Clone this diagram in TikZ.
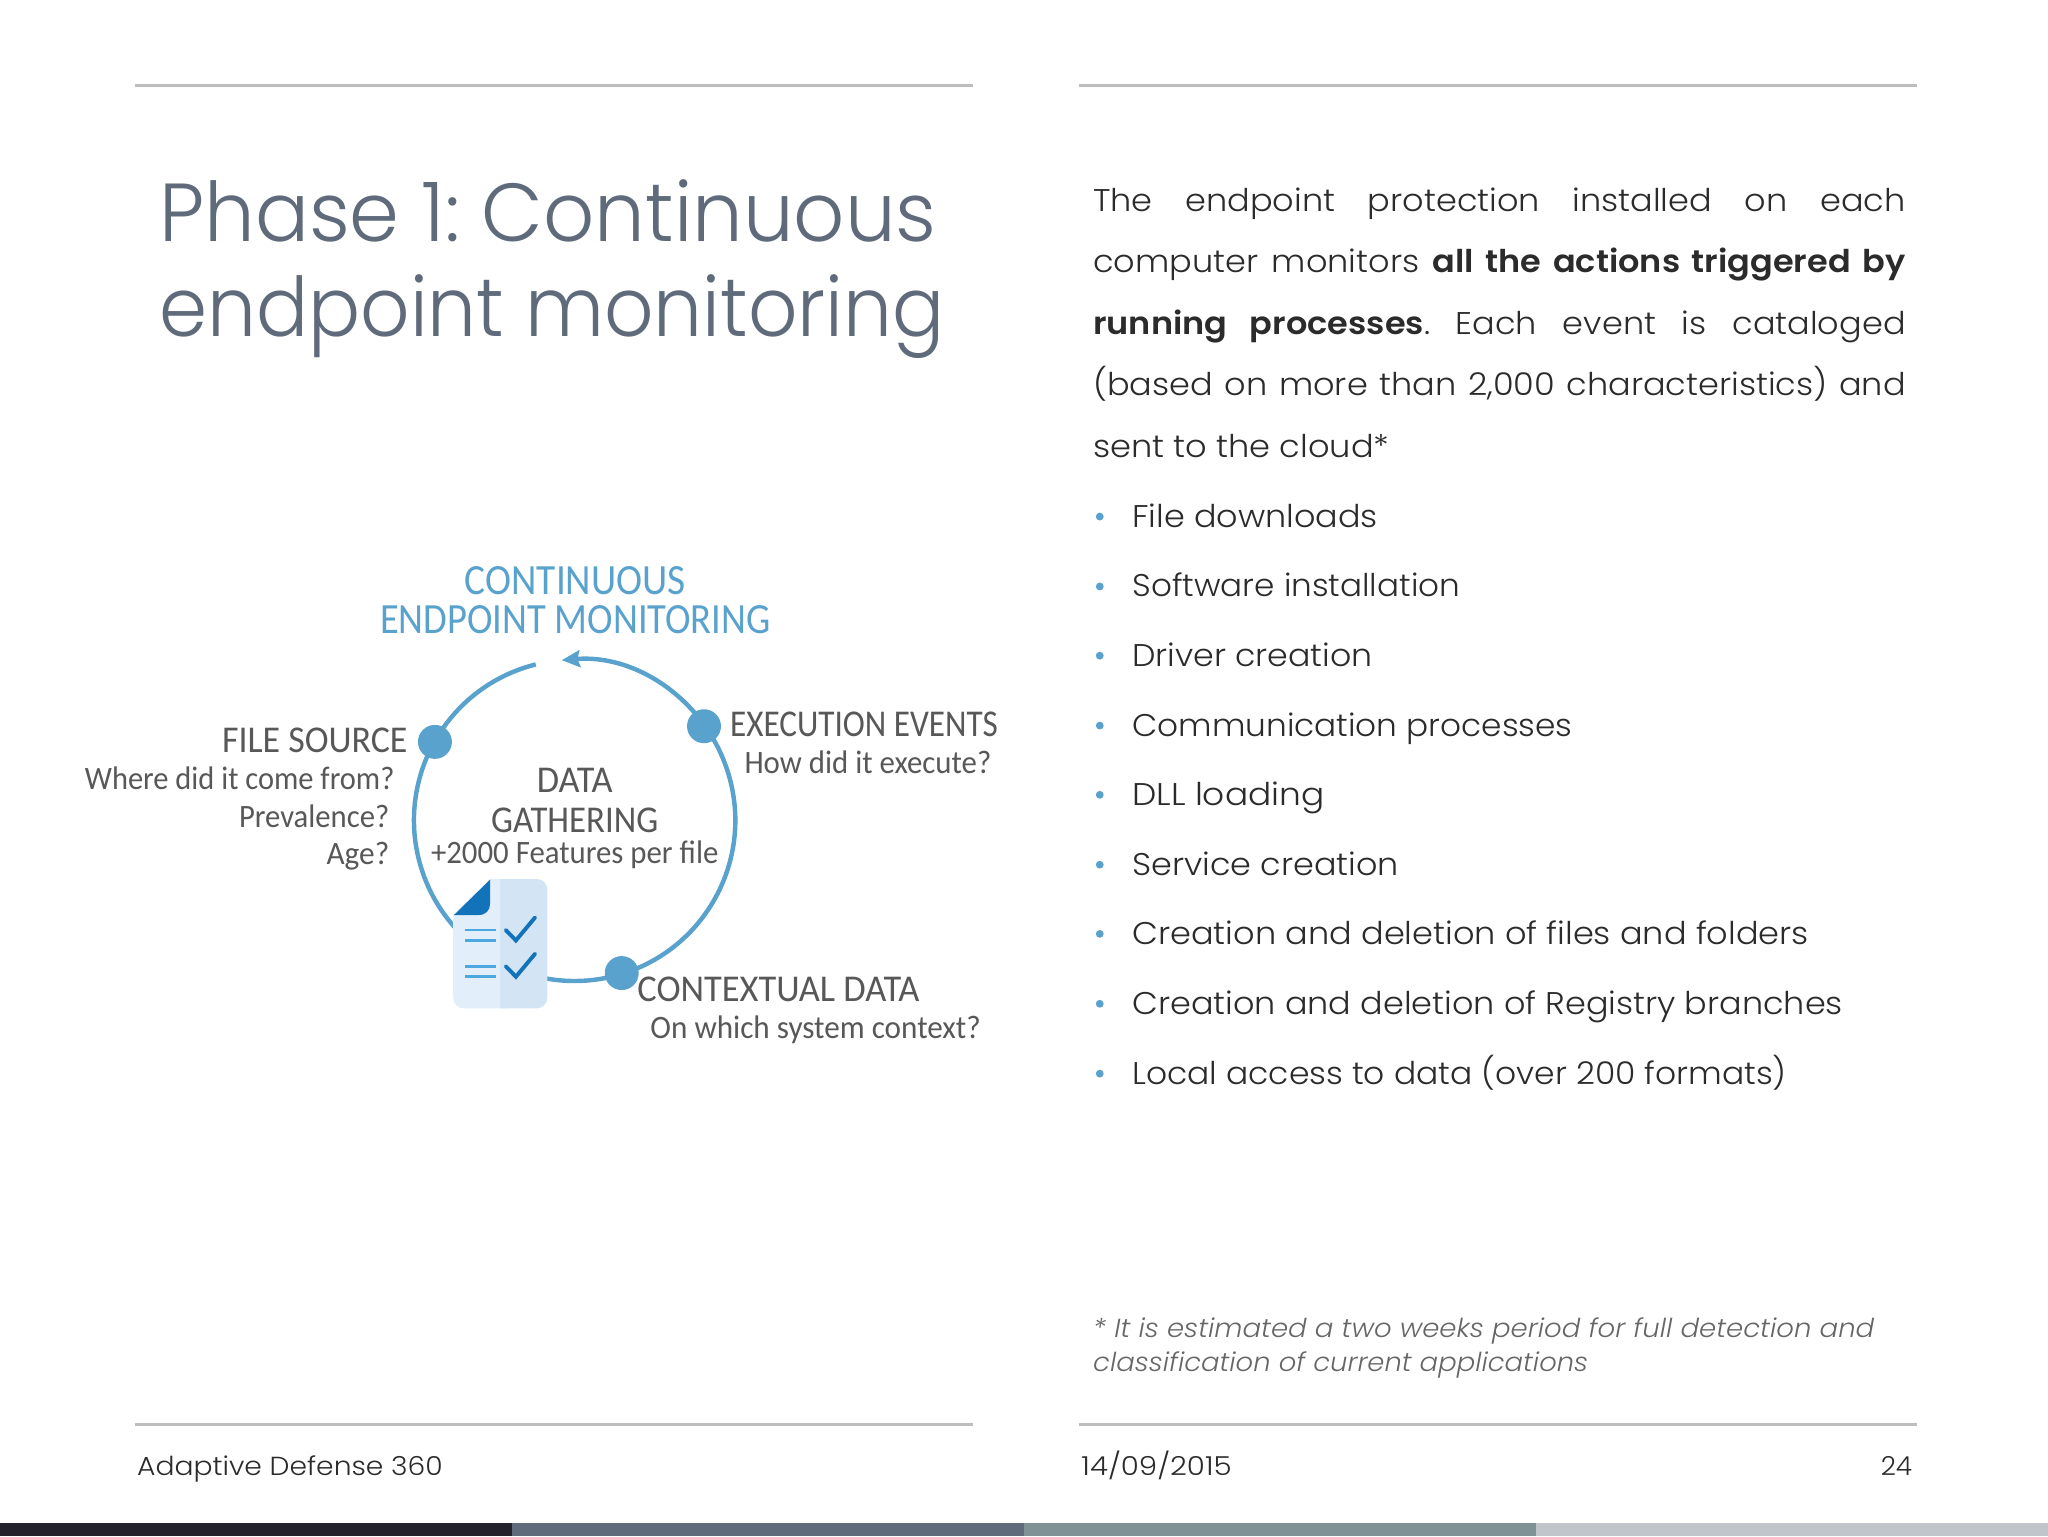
\documentclass[tikz,border=0pt]{standalone}
\usepackage{graphicx}
\usepackage{fontspec}
\usetikzlibrary{arrows.meta}
\setmainfont{Poppins}[UprightFont=* Light,BoldFont=* SemiBold,ItalicFont=* Light Italic,FakeStretch=1.07]
\newfontfamily\titlefont{Poppins}[UprightFont=* Light]
\newfontfamily\dgfont{Carlito}
\frenchspacing
\definecolor{ruleg}{HTML}{BDBDBD}
\definecolor{titleg}{HTML}{5F6B7B}
\definecolor{bodyk}{HTML}{2B2B2B}
\definecolor{ringb}{HTML}{5AA2CE}
\definecolor{dgtext}{HTML}{585858}
\definecolor{noteg}{HTML}{666666}
\definecolor{docl}{HTML}{E2EEFA}
\definecolor{docr}{HTML}{D3E4F4}
\definecolor{docd}{HTML}{1273BB}
\definecolor{docm}{HTML}{4BA9DF}
\definecolor{barA}{HTML}{22222C}
\definecolor{barB}{HTML}{7F9296}
\definecolor{barC}{HTML}{C0C5CB}
\newcommand{\lineW}[1]{\makebox[622pt][s]{#1}}
\newcommand{\fitw}[2]{\resizebox{#1pt}{\height}{#2}}
\tikzset{
  every node/.style={inner sep=0pt,outer sep=0pt},
  titletxt/.style={anchor=base west,text=titleg,font=\titlefont\fontsize{63}{63}\selectfont},
  bodytxt/.style={anchor=base west,text=bodyk,font=\fontsize{24}{24}\selectfont},
  bul/.style={circle,fill=ringb,minimum size=6pt},
  notetxt/.style={anchor=base west,text=noteg,font=\fontsize{20}{20}\selectfont\itshape},
  foot/.style={text=bodyk,font=\fontsize{20}{20}\selectfont},
  rulel/.style={ruleg,line width=2pt},
  hd/.style={text=dgtext,font=\dgfont\fontsize{29}{29}\selectfont},
  sb/.style={text=dgtext,font=\dgfont\fontsize{25}{25}\selectfont},
  hb/.style={text=ringb,font=\dgfont\fontsize{33}{33}\selectfont},
  dotn/.style={circle,fill=ringb,minimum size=26pt},
  ringl/.style={ringb,line width=3.4pt},
  tickl/.style={docd,line width=3pt,line cap=round,line join=miter},
  barl/.style={docm,line width=2.2pt}
}
\begin{document}
\begin{tikzpicture}[x=1pt,y=-1pt]
\useasboundingbox (0,0) rectangle (1568,1176);
\fill[white] (0,0) rectangle (1568,1176);
% rules
\draw[rulel] (103,65.5) -- (745,65.5);
\draw[rulel] (826,65.5) -- (1468,65.5);
\draw[rulel] (103,1090.5) -- (745,1090.5);
\draw[rulel] (826,1090.5) -- (1468,1090.5);
% bars
\fill[barA] (0,1166) rectangle (392,1176);
\fill[titleg] (392,1166) rectangle (784,1176);
\fill[barB] (784,1166) rectangle (1176,1176);
\fill[barC] (1176,1166) rectangle (1568,1176);
% title
\node[titletxt] (t1) at (122,185) {\fitw{595}{Phase 1: Continuous}};
\node[titletxt] (t2) at (122,258) {\fitw{601}{endpoint monitoring}};
% paragraph
\node[bodytxt] (p1) at (837,162) {\lineW{The endpoint protection installed on each}};
\node[bodytxt] (p2) at (837,209) {\lineW{computer monitors \textbf{all the actions triggered by}}};
\node[bodytxt] (p3) at (837,256) {\lineW{\textbf{running processes}. Each event is cataloged}};
\node[bodytxt] (p4) at (837,303) {\lineW{(based on more than 2,000 characteristics) and}};
\node[bodytxt] (p5) at (837,350) {\fitw{227}{sent to the cloud*}};
% bullets
\foreach \n/\y/\w/\s in {a/403.5/188/File downloads,b/457/251/Software installation,c/510/184/Driver creation,d/563.5/337/Communication processes,e/616.5/147/DLL loading,f/670/204/Service creation,g/723/518/Creation and deletion of files and folders,h/776.5/544/Creation and deletion of Registry branches,i/830/501/Local access to data (over 200 formats)}{
  \node[bul] (bu\n) at (842,\y-8) {};
  \node[bodytxt] (li\n) at (867,\y) {\fitw{\w}{\s}};
}
% note
\node[notetxt] (n1) at (837,1024) {\fitw{598}{* It is estimated a two weeks period for full detection and}};
\node[notetxt] (n2) at (837,1050) {\fitw{379}{classification of current applications}};
% footer
\node[foot,anchor=base west] (f1) at (105,1129.5) {\fitw{234}{Adaptive Defense 360}};
\node[foot,anchor=base west] (f2) at (828,1129.5) {\fitw{115}{14/09/2015}};
\node[foot,anchor=base east] (f3) at (1464,1129.5) {\fitw{24}{24}};
% ring
\coordinate (ringstart) at (410.2,508.7);
\draw[ringl,-{Stealth[length=14pt,width=13pt,inset=2pt]}] (ringstart) arc[start angle=104,end angle=454.6,radius=123pt];
\node[dotn] (d1) at (333,568) {};
\node[dotn] (d2) at (539,556) {};
\node[dotn] (d3) at (476,745) {};
% document icon
\fill[docl] (375,673) -- (390,673) -- (390,772) -- (355,772) arc[start angle=270,end angle=180,radius=8pt] -- (347,700.5) -- cycle;
\fill[docr] (383,673) -- (411,673) arc[start angle=90,end angle=0,radius=8pt] -- (419,764) arc[start angle=0,end angle=-90,radius=8pt] -- (383,772) -- cycle;
\fill[docd] (375.2,673.5) -- (347.5,700.6) -- (366,700.6) .. controls (372,700.6) and (375.2,697) .. (375.2,692) -- cycle;
\draw[barl] (356,712) -- (380,712);
\draw[barl] (356,720) -- (380,720);
\draw[barl] (356,740) -- (380,740);
\draw[barl] (356,747.5) -- (380,747.5);
\draw[tickl] (387.2,712) -- (395,720) -- (409.7,702.4);
\draw[tickl] (387.2,739.8) -- (395,747.8) -- (409.7,730.2);
% diagram text
\node[hb,anchor=base] (h1) at (440.5,455) {\fitw{169}{CONTINUOUS}};
\node[hb,anchor=base] (h2) at (440.5,485) {\fitw{299}{ENDPOINT MONITORING}};
\node[hd,anchor=base east] (s1) at (312,576) {\fitw{142}{FILE SOURCE}};
\node[sb,anchor=base east] (s1a) at (302,604.5) {\fitw{237}{Where did it come from?}};
\node[sb,anchor=base east] (s1b) at (298,633.5) {\fitw{115}{Prevalence?}};
\node[sb,anchor=base east] (s1c) at (298,661.5) {\fitw{48}{Age?}};
\node[hd,anchor=base west] (s2) at (559,564) {\fitw{205}{EXECUTION EVENTS}};
\node[sb,anchor=base west] (s2a) at (570,592) {\fitw{189}{How did it execute?}};
\node[hd,anchor=base west] (s3) at (488,767) {\fitw{216}{CONTEXTUAL DATA}};
\node[sb,anchor=base west] (s3a) at (498,795) {\fitw{253}{On which system context?}};
\node[hd,anchor=base] (c1) at (440,607) {\fitw{58}{DATA}};
\node[hd,anchor=base] (c2) at (440,637) {\fitw{128}{GATHERING}};
\node[sb,anchor=base] (c3) at (440,661) {\fitw{220}{+2000 Features per file}};
\end{tikzpicture}
\end{document}
